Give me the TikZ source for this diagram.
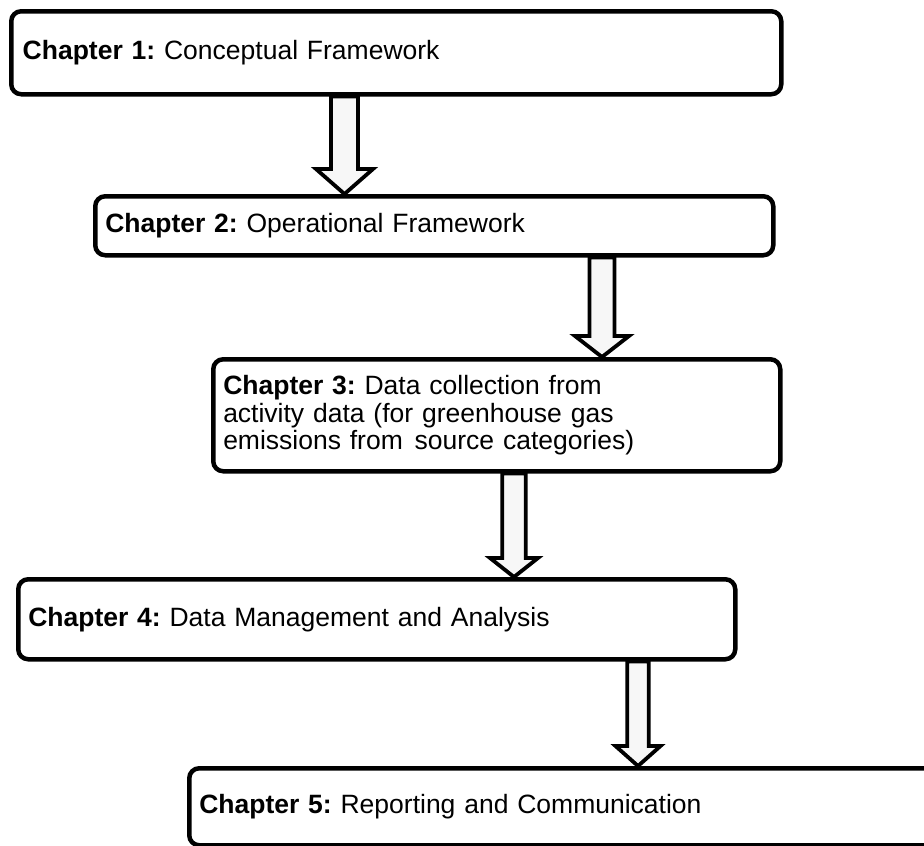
\documentclass[tikz,border=0pt]{standalone}
\usepackage{fontspec}
\setmainfont{Liberation Sans}
\frenchspacing
\usetikzlibrary{calc,backgrounds}
\tikzset{
  chbox/.style={draw=black, line width=4.5pt, rounded corners=10pt, fill=white,
    anchor=north west, inner xsep=10pt, inner ysep=0pt, align=left,
    font=\fontsize{26.5}{27.5}\selectfont},
  blockarrow/.style={draw=black, line width=3.8pt, fill=white!97!black,
    line join=miter, miter limit=10}
}
% #1 x coordinate name, #2 from node, #3 to node, #4 shaft half width, #5 head half width, #6 head length
\newcommand\blockarrowdown[6]{%
  \draw[blockarrow] ($(#2.south -| #1)+(-#4,0)$) -- ($(#3.north -| #1)+(-#4,-#6)$)
    -- ($(#3.north -| #1)+(-#5,-#6)$) -- (#3.north -| #1)
    -- ($(#3.north -| #1)+(#5,-#6)$) -- ($(#3.north -| #1)+(#4,-#6)$)
    -- ($(#2.south -| #1)+(#4,0)$) -- cycle;
}
\begin{document}
\begin{tikzpicture}[x=1pt,y=-1pt]
  \path[use as bounding box] (0,0) rectangle (924,846);
  \clip (0,0) rectangle (924,846);

  \node[chbox, inner xsep=11.5pt, minimum width=770pt, minimum height=83pt, text width=747pt] (b1) at (9,9)
    {\frenchspacing\textbf{Chapter 1:} Conceptual Framework};
  \node[chbox, minimum width=678pt, minimum height=59pt, text width=658pt] (b2) at (93,194)
    {\frenchspacing\textbf{Chapter 2:} Operational Framework};
  \node[chbox, minimum width=567pt, minimum height=112pt, text width=547pt] (b3) at (211,357)
    {\frenchspacing\textbf{Chapter 3:} Data collection from\\activity data (for greenhouse gas\\emissions from\hspace{3pt} source categories)};
  \node[chbox, minimum width=717pt, minimum height=80pt, text width=697pt] (b4) at (16,577)
    {\frenchspacing\textbf{Chapter 4:} Data Management and Analysis};
  \node[chbox, minimum width=780pt, minimum height=77pt, text width=760pt] (b5) at (187,766)
    {\frenchspacing\textbf{Chapter 5:} Reporting and Communication};

  \coordinate (x1) at (344.5,0);
  \coordinate (x2) at (602,0);
  \coordinate (x3) at (514,0);
  \coordinate (x4) at (638,0);

  \begin{scope}[on background layer]
    \blockarrowdown{x1}{b1}{b2}{13.5}{28.5}{25}
    \blockarrowdown{x2}{b2}{b3}{12.5}{27}{21}
    \blockarrowdown{x3}{b3}{b4}{11.7}{24}{19}
    \blockarrowdown{x4}{b4}{b5}{10.7}{22.5}{20}
  \end{scope}
\end{tikzpicture}
\end{document}
